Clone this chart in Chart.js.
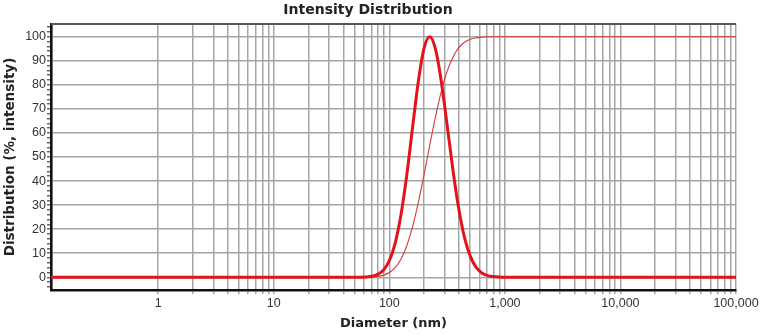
<!DOCTYPE html>
<html>
<head>
<meta charset="utf-8">
<script src="https://cdn.jsdelivr.net/npm/chart.js@4.4.1/dist/chart.umd.min.js"></script>
<style>
  html, body { margin: 0; padding: 0; background: #ffffff; }
  #chart { display: block; }
</style>
</head>
<body>
<canvas id="chart" width="762" height="335"></canvas>
<script>
// === DATOS ===
const diameters = [0.118, 50.1, 56.2, 63.1, 70.8, 79.4, 89.1, 100, 112.2, 125.9, 141.3, 158.5, 177.8, 199.5,
    223.9, 251.2, 281.8, 316.2, 354.8, 398.1, 446.7, 501.2, 562.3, 631.0, 707.9, 794.3, 891.3, 1000, 100000];
const intensity = [0, 0, 0.04, 0.13, 0.4, 1.2, 3.0, 6.9, 14.1, 25.8, 42.2, 61.9, 81.1, 95.2,
    100, 94.7, 81.3, 63.3, 44.7, 28.7, 16.6, 8.8, 4.2, 1.8, 0.7, 0.3, 0.1, 0, 0];
const cumulative = [0, 0, 0, 0, 0.13, 0.36, 0.88, 1.97, 4.0, 7.5, 13.0, 20.8, 30.9, 42.6,
    55.0, 66.9, 77.3, 85.6, 91.5, 95.4, 97.7, 99.0, 99.6, 99.8, 100, 100, 100, 100, 100];

const xMajorTicks = [1, 10, 100, 1000, 10000, 100000];
const xTickLabels = ['1', '10', '100', '1,000', '10,000', '100,000'];
const yMajorTicks = [0, 10, 20, 30, 40, 50, 60, 70, 80, 90, 100];
const yTickLabels = ['0', '10', '20', '30', '40', '50', '60', '70', '80', '90', '100'];

const GRID = '#a5a5a5';
const tickFont = { family: "'Liberation Sans', Arial, sans-serif", size: 12.5 };
const titleFont = { family: "'DejaVu Sans', Verdana, sans-serif", size: 13.5, weight: 'bold' };

const toPoints = (ys) => diameters.map((d, i) => ({ x: d, y: ys[i] }));

// linea superior del marco
const topBorder = {
    id: 'topBorder',
    afterDatasetsDraw(chart) {
        const { ctx, chartArea: a } = chart;
        ctx.save();
        ctx.strokeStyle = '#555555';
        ctx.lineWidth = 1.8;
        ctx.beginPath();
        ctx.moveTo(a.left, a.top);
        ctx.lineTo(a.right, a.top);
        ctx.stroke();
        ctx.restore();
    }
};

new Chart(document.getElementById('chart').getContext('2d'), {
    type: 'line',
    data: {
        datasets: [
            {
                label: 'Intensity',
                data: toPoints(intensity),
                borderColor: '#e3121b',
                borderWidth: 3,
                pointRadius: 0,
                cubicInterpolationMode: 'monotone',
                fill: false
            },
            {
                label: 'Cumulative',
                data: toPoints(cumulative),
                borderColor: '#d23a3a',
                borderWidth: 1.1,
                pointRadius: 0,
                cubicInterpolationMode: 'monotone',
                fill: false
            }
        ]
    },
    options: {
        responsive: false,
        animation: false,
        devicePixelRatio: 1,
        layout: { padding: { left: 0, right: 26, top: 0, bottom: 0 } },
        plugins: {
            legend: { display: false },
            tooltip: { enabled: false },
            title: {
                display: true,
                text: 'Intensity Distribution',
                color: '#222222',
                font: { family: "'DejaVu Sans', Verdana, sans-serif", size: 14, weight: 'bold' },
                padding: { top: 1.5, bottom: 5.7 }
            }
        },
        scales: {
            x: {
                type: 'logarithmic',
                min: 0.118,
                max: 100000,
                afterBuildTicks: (scale) => {
                    const vals = [];
                    for (let p = 1; p < 100000; p *= 10) {
                        for (let m = 1; m < 10; m++) vals.push(m * p);
                    }
                    vals.push(100000);
                    scale.ticks = vals.map(v => ({ value: v }));
                },
                afterFit: (scale) => { scale.height = 45; },
                ticks: {
                    autoSkip: false,
                    maxRotation: 0,
                    padding: 2,
                    color: '#333333',
                    font: tickFont,
                    callback: (value) => {
                        const i = xMajorTicks.indexOf(Number(value));
                        return i >= 0 ? xTickLabels[i] : '';
                    }
                },
                grid: {
                    color: GRID,
                    lineWidth: 1.5,
                    drawTicks: true,
                    tickLength: 4,
                    tickColor: GRID
                },
                border: { display: true, color: '#111111', width: 2.6 },
                title: {
                    display: true,
                    text: 'Diameter (nm)',
                    color: '#222222',
                    font: { family: "'DejaVu Sans', Verdana, sans-serif", size: 13, weight: 'bold' },
                    padding: { top: 0, bottom: 4 }
                }
            },
            y: {
                type: 'linear',
                min: -5.3,
                max: 105.3,
                afterBuildTicks: (scale) => {
                    const vals = [];
                    for (let v = -4; v <= 104; v += 2) vals.push(v);
                    scale.ticks = vals.map(v => ({ value: v }));
                },
                afterFit: (scale) => { scale.width = 51; },
                ticks: {
                    autoSkip: false,
                    padding: 1,
                    color: '#333333',
                    font: tickFont,
                    callback: (value) => {
                        const i = yMajorTicks.indexOf(Number(value));
                        return i >= 0 ? yTickLabels[i] : '';
                    }
                },
                grid: {
                    color: (c) => (c.tick && c.tick.value % 10 === 0) ? GRID : 'rgba(0,0,0,0)',
                    lineWidth: 1.5,
                    drawTicks: true,
                    tickLength: 4,
                    tickColor: '#666666'
                },
                border: { display: true, color: '#111111', width: 2.6 },
                title: {
                    display: true,
                    text: 'Distribution (%, intensity)',
                    color: '#222222',
                    font: titleFont,
                    padding: { top: 2.5, bottom: 0 }
                }
            }
        }
    },
    plugins: [topBorder]
});
</script>
</body>
</html>
